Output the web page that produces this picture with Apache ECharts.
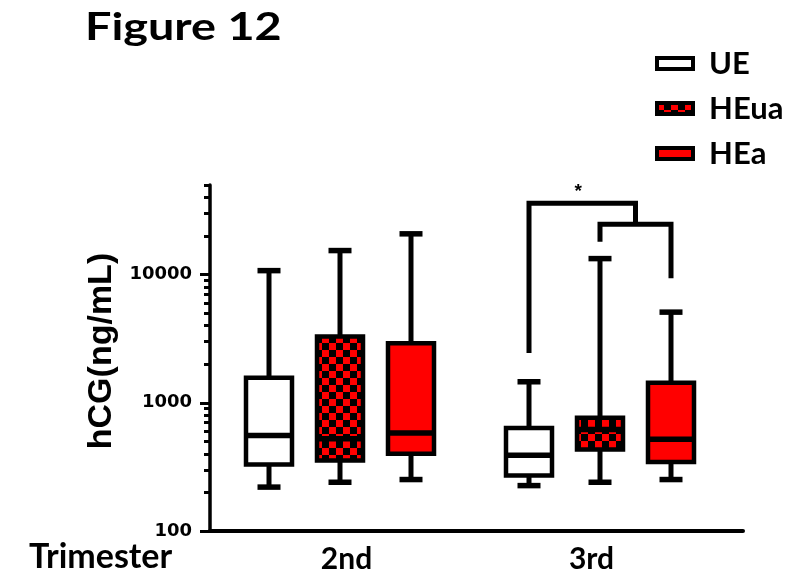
<!DOCTYPE html>
<html><head><meta charset="utf-8">
<script src="https://cdn.jsdelivr.net/npm/echarts@6/dist/echarts.min.js"></script>
<style>html,body{margin:0;padding:0;background:#fff}#c{width:804px;height:584px}</style>
</head><body><div id="c"></div>
<script>
// ---------------- data ----------------
const categories = ['2nd', '3rd'];
const seriesNames = ['UE', 'HEua', 'HEa'];
// per trimester: [min, Q1, median, Q3, max]  (hCG, ng/mL)
const ueValues   = [[220, 330, 557, 1570, 10740], [226, 271, 389, 637, 1459]];
const heuaValues = [[240, 355, 525, 3285, 15400], [240, 433, 618, 763, 13330]];
const heaValues  = [[252, 401, 582, 2912, 20800], [252, 345, 519, 1435, 5096]];
const yRange = [100, 50000];
const yMajorTicks = [100, 1000, 10000];
const yMinorTicks = [200, 300, 400, 500, 600, 700, 800, 900,
                     2000, 3000, 4000, 5000, 6000, 7000, 8000, 9000,
                     20000, 30000, 40000, 50000];
// significance bracket in 3rd trimester: UE vs (HEua, HEa)
const bracketCategory = '3rd';
const bracketLevels = [2444, 36000, 24700, 18070, 9350]; // UE leg end, outer top, inner top, HEua leg end, HEa leg end
const bracketLabel = '*';

// ---------------- styles ----------------
const RED = '#ff0000';
const checker = document.createElement('canvas');
checker.width = 14; checker.height = 14;
(function () {
  const g = checker.getContext('2d');
  g.fillStyle = '#000'; g.fillRect(0, 0, 14, 14);
  g.fillStyle = RED; g.fillRect(0, 0, 7, 7); g.fillRect(7, 7, 7, 7);
})();
const fills = ['#ffffff', { image: checker, repeat: 'repeat' }, RED];
const GROUP_OFFSET = 71, HALF_BOX = 23, HALF_CAP = 11.5, LW = 5;
const lineStyle = { stroke: '#000', lineWidth: LW, lineCap: 'butt', fill: null };

function boxRender(params, api) {
  const xi = api.value(0);
  const cx = api.coord([xi, api.value(3)])[0] + (params.seriesIndex - 1) * GROUP_OFFSET;
  const y = [1, 2, 3, 4, 5].map(function (d) { return api.coord([xi, api.value(d)])[1]; });
  const fill = fills[params.seriesIndex];
  const thick = Object.assign({}, lineStyle, { lineWidth: 5.5 });
  return {
    type: 'group',
    children: [
      { type: 'line', shape: { x1: cx, y1: y[0], x2: cx, y2: y[1] }, style: lineStyle },
      { type: 'line', shape: { x1: cx, y1: y[3], x2: cx, y2: y[4] }, style: lineStyle },
      { type: 'line', shape: { x1: cx - HALF_CAP, y1: y[0], x2: cx + HALF_CAP, y2: y[0] }, style: thick },
      { type: 'line', shape: { x1: cx - HALF_CAP, y1: y[4], x2: cx + HALF_CAP, y2: y[4] }, style: thick },
      { type: 'rect', shape: { x: cx - HALF_BOX, y: y[3], width: 2 * HALF_BOX, height: y[1] - y[3] },
        style: { fill: fill, stroke: '#000', lineWidth: 4.5 } },
      { type: 'line', shape: { x1: cx - HALF_BOX, y1: y[2], x2: cx + HALF_BOX, y2: y[2] }, style: thick }
    ]
  };
}

function bracketRender(params, api) {
  const xi = api.value(0);
  const c = api.coord([xi, api.value(2)])[0];
  const x0 = c - GROUP_OFFSET, x1 = c, x2 = c + GROUP_OFFSET, mid = (x1 + x2) / 2;
  const yv = [1, 2, 3, 4, 5].map(function (d) { return api.coord([xi, api.value(d)])[1]; });
  const st = { stroke: '#000', lineWidth: LW, fill: null, lineJoin: 'miter', lineCap: 'butt' };
  return {
    type: 'group',
    children: [
      { type: 'polyline', shape: { points: [[x0, yv[0]], [x0, yv[1]], [mid, yv[1]], [mid, yv[2]]] }, style: st },
      { type: 'polyline', shape: { points: [[x1, yv[3]], [x1, yv[2]], [x2, yv[2]], [x2, yv[4]]] }, style: st },
      { type: 'text', x: (x0 + mid) / 2 - 4, y: yv[1] - 12,
        style: { text: bracketLabel, align: 'center', verticalAlign: 'middle',
                 font: 'bold 19px "Liberation Sans", Arial, sans-serif', fill: '#000' } }
    ]
  };
}

function rows(vals) { return categories.map(function (c, i) { return [i + 1].concat(vals[i]); }); }
const allValues = [ueValues, heuaValues, heaValues];

const chart = echarts.init(document.getElementById('c'), null, { renderer: 'canvas' });
const boxSeries = seriesNames.map(function (n, i) {
  return {
    name: n, type: 'custom', renderItem: boxRender,
    encode: { x: 0, y: [1, 2, 3, 4, 5] },
    itemStyle: { color: fills[i], borderColor: '#000', borderWidth: 4 },
    data: rows(allValues[i]), silent: true, clip: false
  };
});
const bracketSeries = {
  name: 'bracket', type: 'custom', renderItem: bracketRender,
  encode: { x: 0, y: [1, 2, 3, 4, 5] },
  data: [[categories.indexOf(bracketCategory) + 1].concat(bracketLevels)], silent: true, clip: false
};

chart.setOption({
  animation: false,
  backgroundColor: '#fff',
  grid: { left: 210, right: 61, top: 185, bottom: 53, containLabel: false },
  legend: {
    orient: 'vertical', left: 650, top: 43, itemWidth: 36, itemHeight: 11, itemGap: 14,
    icon: 'rect', selectedMode: false,
    data: seriesNames.map(function (n, i) {
      return { name: n, itemStyle: { color: fills[i], borderColor: '#000', borderWidth: 4 } };
    }),
    textStyle: { fontFamily: 'Lato', fontWeight: 'bold', fontSize: 31, color: '#000', padding: [0, 0, 0, 11] }
  },
  graphic: [
    { type: 'text', x: 85, y: 9, scaleX: 1.23,
      style: { text: 'Figure 12', font: 'bold 38px Lato, sans-serif', fill: '#000' } },
    { type: 'text', x: 29, y: 540,
      style: { text: 'Trimester', font: 'bold 34px Lato, sans-serif', fill: '#000' } }
  ],
  xAxis: {
    type: 'value', min: 0.5, max: 2.55,
    splitLine: { show: false },
    axisLine: { show: true, onZero: false, lineStyle: { color: '#000', width: 4 } },
    axisTick: { show: false },
    axisLabel: {
      customValues: categories.map(function (c, i) { return i + 1; }),
      formatter: function (v) { const i = Math.round(v) - 1; return '{c' + i + '|' + (categories[i] || '') + '}'; },
      margin: 13, color: '#000',
      rich: {
        c0: { fontFamily: 'Lato', fontWeight: 'bold', fontSize: 30, color: '#000', padding: [0, 0, 0, 13] },
        c1: { fontFamily: 'Lato', fontWeight: 'bold', fontSize: 30, color: '#000', padding: [0, 17, 0, 0] }
      }
    }
  },
  yAxis: [
    {
      type: 'log', logBase: 10, min: yRange[0], max: yRange[1], position: 'left',
      name: 'hCG(ng/mL)', nameLocation: 'middle', nameRotate: 90, nameGap: 66,
      nameTextStyle: { fontFamily: '"Liberation Sans", Arial', fontWeight: 'bold', fontSize: 34, color: '#000', padding: [0, 0, 0, 14] },
      splitLine: { show: false },
      axisLine: { show: true, lineStyle: { color: '#000', width: 3.5 } },
      axisTick: { show: true, length: 10, customValues: yMajorTicks, lineStyle: { color: '#000', width: 3 } },
      axisLabel: { customValues: yMajorTicks, formatter: function (v) { return String(v); },
                   margin: 18, fontFamily: '"DejaVu Sans"', fontWeight: 'bold', fontSize: 18, color: '#000' }
    },
    {
      type: 'log', logBase: 10, min: yRange[0], max: yRange[1], position: 'left', offset: 0,
      splitLine: { show: false },
      axisLine: { show: false },
      axisLabel: { show: false },
      axisTick: { show: true, length: 6, customValues: yMinorTicks, lineStyle: { color: '#000', width: 3 } }
    }
  ],
  series: boxSeries.concat([bracketSeries])
});
</script>
</body></html>
